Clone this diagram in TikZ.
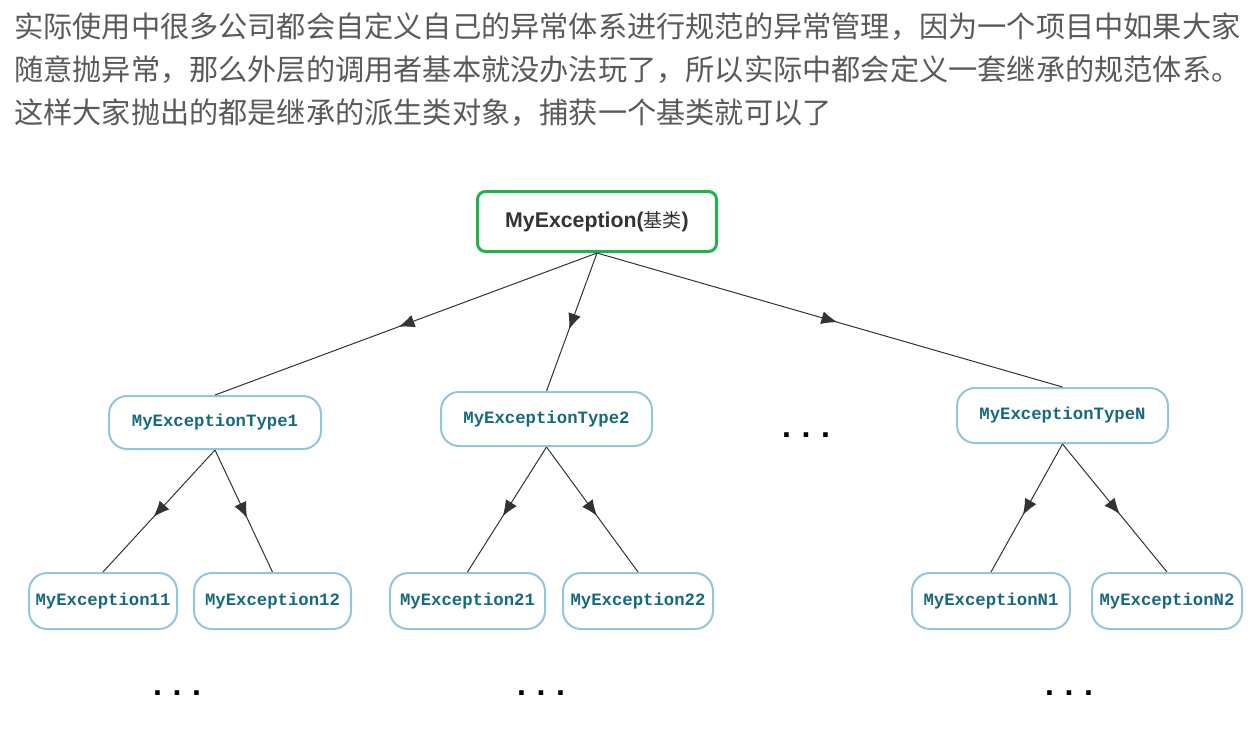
\documentclass[tikz,border=0pt]{standalone}
\usepackage{fontspec}
\setmainfont{Liberation Sans}
\newfontfamily\cjk{Noto Sans CJK SC}
\newfontfamily\codefont{Liberation Mono}
\usetikzlibrary{arrows.meta,decorations.markings}
\definecolor{bodytext}{HTML}{5A5A5A}
\definecolor{rootgreen}{HTML}{22B14C}
\definecolor{roottext}{HTML}{333333}
\definecolor{boxblue}{HTML}{92C6D8}
\definecolor{codeteal}{HTML}{156A7D}
\definecolor{linkgray}{HTML}{333333}
\newcommand{\threedots}{.\hspace{10.6pt}.\hspace{10.6pt}.}
\begin{document}
\begin{tikzpicture}[x=1pt,y=-1pt,
  para/.style={anchor=base west, inner sep=0, font=\cjk\fontsize{29.2}{29.2}\selectfont, text=bodytext},
  rootbox/.style={draw=rootgreen, line width=3pt, rounded corners=8pt, minimum width=239pt, minimum height=60pt, inner sep=0, fill=white, text=roottext, font=\bfseries\fontsize{21.3}{21.3}\selectfont},
  typebox/.style={draw=boxblue, line width=2pt, rounded corners=18pt, inner sep=0, fill=white, font=\codefont\bfseries\fontsize{17.3}{17.3}\selectfont, text=codeteal},
  link/.style={draw=linkgray, line width=1pt, postaction={decorate}, decoration={markings, mark=at position 0.5 with {\arrow[xshift=8pt]{Latex[length=16pt,width=13pt]}}}},
  dotrow/.style={anchor=base, inner sep=0, font=\bfseries\fontsize{32}{32}\selectfont, text=black}
]
\useasboundingbox[fill=white] (0,0) rectangle (1250,732);

\node[para] (l1) at (14,37) {实际使用中很多公司都会自定义自己的异常体系进行规范的异常管理，因为一个项目中如果大家};
\node[para] (l2) at (14,80) {随意抛异常，那么外层的调用者基本就没办法玩了，所以实际中都会定义一套继承的规范体系。};
\node[para] (l3) at (14,123) {这样大家抛出的都是继承的派生类对象，捕获一个基类就可以了};

\node[rootbox] (root) at (597,221.5) {MyException({\cjk\mdseries\fontsize{19}{19}\selectfont 基类})};

\node[typebox, minimum width=212pt, minimum height=53pt] (t1) at (215,422.5) {MyExceptionType1};
\node[typebox, minimum width=211pt, minimum height=54pt] (t2) at (546.5,419) {MyExceptionType2};
\node[typebox, minimum width=211pt, minimum height=55pt] (tn) at (1062.5,415.5) {MyExceptionTypeN};

\node[typebox, minimum width=148pt, minimum height=56pt] (e11) at (103,601) {MyException11};
\node[typebox, minimum width=157pt, minimum height=56pt] (e12) at (272.5,601) {MyException12};
\node[typebox, minimum width=155pt, minimum height=56pt] (e21) at (467.5,601) {MyException21};
\node[typebox, minimum width=150pt, minimum height=56pt] (e22) at (638,601) {MyException22};
\node[typebox, minimum width=158pt, minimum height=56pt] (en1) at (991,601) {MyExceptionN1};
\node[typebox, minimum width=150pt, minimum height=56pt] (en2) at (1167,601) {MyExceptionN2};

\draw[link] (root.south) -- (t1.north);
\draw[link] (root.south) -- (t2.north);
\draw[link] (root.south) -- (tn.north);
\draw[link] (t1.south) -- (e11.north);
\draw[link] (t1.south) -- (e12.north);
\draw[link] (t2.south) -- (e21.north);
\draw[link] (t2.south) -- (e22.north);
\draw[link] (tn.south) -- (en1.north);
\draw[link] (tn.south) -- (en2.north);

\node[dotrow] (d0) at (806,437) {\threedots};
\node[dotrow] (d1) at (177,695) {\threedots};
\node[dotrow] (d2) at (541,695) {\threedots};
\node[dotrow] (d3) at (1069,695) {\threedots};
\end{tikzpicture}
\end{document}
